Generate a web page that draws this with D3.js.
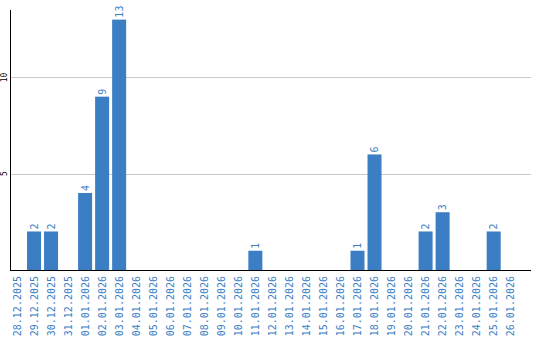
<!DOCTYPE html>
<html>
<head>
<meta charset="utf-8">
<script src="https://cdn.jsdelivr.net/npm/d3@7"></script>
<style>
  body { margin: 0; background: #fff; }
  svg { display: block; }
</style>
</head>
<body>
<svg width="540" height="340"></svg>
<script>
const days = ['28.12.2025', '29.12.2025', '30.12.2025', '31.12.2025',
  '01.01.2026', '02.01.2026', '03.01.2026', '04.01.2026', '05.01.2026', '06.01.2026',
  '07.01.2026', '08.01.2026', '09.01.2026', '10.01.2026', '11.01.2026', '12.01.2026',
  '13.01.2026', '14.01.2026', '15.01.2026', '16.01.2026', '17.01.2026', '18.01.2026',
  '19.01.2026', '20.01.2026', '21.01.2026', '22.01.2026', '23.01.2026', '24.01.2026',
  '25.01.2026', '26.01.2026'];
const counts = [0, 2, 2, 0, 4, 9, 13, 0, 0, 0, 0, 0, 0, 0, 1, 0, 0, 0, 0, 0, 1, 6, 0, 0, 2, 3, 0, 0, 2, 0];
const yTicks = [5, 10];

const blue = '#3b7ec4';
const mono = '"DejaVu Sans Mono", monospace';

const svg = d3.select('svg');
const plotLeft = 10, plotRight = 531, plotBottom = 270, plotTop = 10;

const x = d3.scaleBand()
  .domain(days)
  .range([plotLeft, plotRight])
  .paddingInner(0.177)
  .paddingOuter(0.39)
  .align(0);

const y = d3.scaleLinear()
  .domain([0, 13.5])
  .range([plotBottom, plotTop]);

// grid
svg.append('g').selectAll('line').data(yTicks)
  .enter().append('line')
  .attr('x1', plotLeft).attr('x2', plotRight)
  .attr('y1', d => Math.round(y(d)) + 0.5)
  .attr('y2', d => Math.round(y(d)) + 0.5)
  .attr('stroke', '#c8c8c8');

// y tick labels
svg.append('g').selectAll('text').data(yTicks)
  .enter().append('text')
  .attr('transform', d => `translate(7,${y(d)}) rotate(-90)`)
  .attr('text-anchor', 'middle')
  .attr('font-family', mono)
  .attr('font-size', 8)
  .attr('fill', '#000')
  .text(d => d);

// bars
const data = days.map((d, i) => ({ day: d, n: counts[i] }));
svg.append('g').selectAll('rect').data(data.filter(d => d.n > 0))
  .enter().append('rect')
  .attr('x', d => x(d.day))
  .attr('y', d => y(d.n))
  .attr('width', x.bandwidth())
  .attr('height', d => y(0) - y(d.n))
  .attr('fill', blue);

// value labels
svg.append('g').selectAll('text').data(data.filter(d => d.n > 0))
  .enter().append('text')
  .attr('transform', d => `translate(${x(d.day) + x.bandwidth() / 2},${y(d.n) - 2}) rotate(-90)`)
  .attr('dy', '0.35em')
  .attr('font-family', mono)
  .attr('font-size', 10)
  .attr('fill', blue)
  .text(d => d.n);

// axis lines
svg.append('line')
  .attr('x1', plotLeft + 0.5).attr('x2', plotLeft + 0.5)
  .attr('y1', plotTop).attr('y2', plotBottom + 1)
  .attr('stroke', '#000');
svg.append('line')
  .attr('x1', plotLeft).attr('x2', plotRight)
  .attr('y1', plotBottom + 0.5).attr('y2', plotBottom + 0.5)
  .attr('stroke', '#000');

// x labels
svg.append('g').selectAll('text').data(days)
  .enter().append('text')
  .attr('transform', d => `translate(${x(d) + x.bandwidth() / 2},${plotBottom + 6}) rotate(-90)`)
  .attr('text-anchor', 'end')
  .attr('dy', '0.35em')
  .attr('font-family', mono)
  .attr('font-size', 10)
  .attr('fill', blue)
  .text(d => d);
</script>
</body>
</html>
